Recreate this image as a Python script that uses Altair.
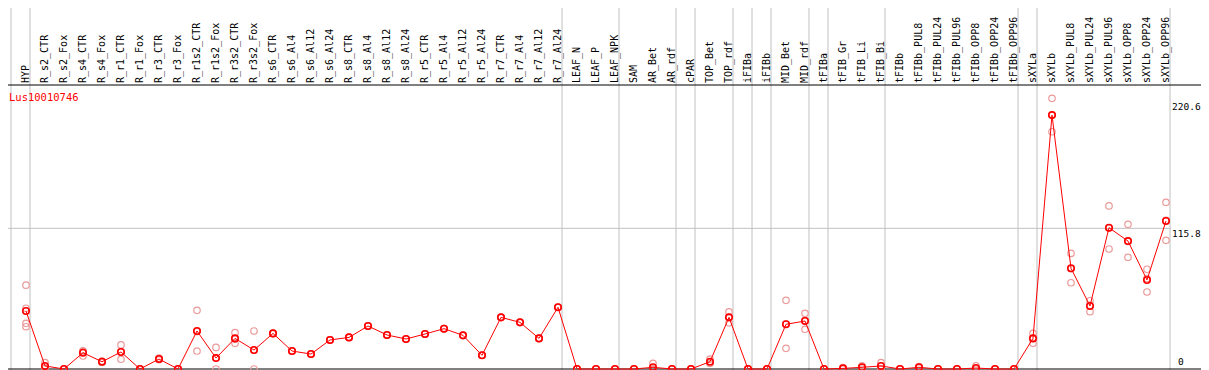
import altair as alt
import pandas as pd

cats = ["HYP", "R_s2_CTR", "R_s2_Fox", "R_s4_CTR", "R_s4_Fox", "R_r1_CTR", "R_r1_Fox",
        "R_r3_CTR", "R_r3_Fox", "R_r1s2_CTR", "R_r1s2_Fox", "R_r3s2_CTR", "R_r3s2_Fox",
        "R_s6_CTR", "R_s6_Al4", "R_s6_Al12", "R_s6_Al24", "R_s8_CTR", "R_s8_Al4",
        "R_s8_Al12", "R_s8_Al24", "R_r5_CTR", "R_r5_Al4", "R_r5_Al12", "R_r5_Al24",
        "R_r7_CTR", "R_r7_Al4", "R_r7_Al12", "R_r7_Al24", "LEAF_N", "LEAF_P", "LEAF_NPK",
        "SAM", "AR_Bet", "AR_rdf", "cPAR", "TOP_Bet", "TOP_rdf", "iFIBa", "iFIBb",
        "MID_Bet", "MID_rdf", "tFIBa", "tFIB_Gr", "tFIB_Li", "tFIB_Bi", "tFIBb",
        "tFIBb_PUL8", "tFIBb_PUL24", "tFIBb_PUL96", "tFIBb_OPP8", "tFIBb_OPP24",
        "tFIBb_OPP96", "sXYLa", "sXYLb", "sXYLb_PUL8", "sXYLb_PUL24", "sXYLb_PUL96",
        "sXYLb_OPP8", "sXYLb_OPP24", "sXYLb_OPP96"]

means = [47.7, 2.5, 0, 13.4, 6, 14, 0, 8.2, 0, 31.3, 9, 25.2, 15.6,
         29.3, 14.8, 12.3, 23.9, 26, 35.4, 28, 24.7, 28.8, 33.2, 27.7, 11.3,
         42.5, 38.4, 25.2, 50.8, 0, 0, 0, 0, 1.4, 0, 0, 6, 42.5, 0, 0,
         36.8, 39.5, 0, 0.5, 1.4, 2.5, 0, 1.4, 0, 0, 0.8, 0, 0,
         25.2, 209, 82.9, 51.9, 116.3, 105.3, 73.3, 121.8]

reps = [[69, 50, 37.6, 34.8], [5.2, 1.5, 0.8], [0, 0, 0], [14.5, 15, 10.7], [6.5, 5.5, 6],
        [19.8, 14.2, 8], [0, 0, 0], [9, 8, 7.6], [0, 0, 0], [48.3, 14.8, 30.8],
        [17.8, 9.2, 0], [29.9, 24.6, 21.1], [31.3, 15.5, 0],
        [29.3, 29.3, 29.3], [14.8, 14.8, 14.8], [12.3, 12.3, 12.3], [23.9, 23.9, 23.9],
        [26, 26, 26], [35.4, 35.4, 35.4], [28, 28, 28], [24.7, 24.7, 24.7],
        [28.8, 28.8, 28.8], [33.2, 33.2, 33.2], [27.7, 27.7, 27.7], [11.3, 11.3, 11.3],
        [42.5, 42.5, 42.5], [38.4, 38.4, 38.4], [25.2, 25.2, 25.2], [50.8, 50.8, 50.8],
        [0, 0, 0], [0, 0, 0], [0, 0, 0], [0, 0, 0], [4.7, 0, 0], [0, 0, 0], [0, 0, 0],
        [8.2, 4.7, 5], [47, 38, 42.5], [0, 0, 0], [0, 0, 0],
        [56.5, 17, 37], [45.8, 32.7, 40], [0, 0, 0], [1.2, 0.3, 0], [2.7, 1.5, 0],
        [5.2, 2.3, 0], [0, 0, 0], [2, 1.5, 0.7], [0, 0, 0], [0, 0, 0], [2.7, 0, 0],
        [0, 0, 0], [0, 0, 0],
        [29.3, 25.2, 21.1], [222.8, 209, 195.3], [95.2, 82.5, 71], [56.2, 52.3, 47.2],
        [134.2, 116, 98.8], [119.1, 105, 91.9], [82.1, 74.5, 63.4], [137.2, 122.3, 105.9]]

group_ends = ["HYP", "R_r7_Al24", "LEAF_NPK", "AR_rdf", "cPAR", "TOP_rdf", "iFIBa",
              "iFIBb", "MID_rdf", "tFIBa", "tFIB_Bi", "tFIBb_OPP96", "sXYLa", "sXYLb_OPP96"]

tick_values = [0, 115.8, 220.6]
gene = "Lus10010746"

FONT = "DejaVu Sans Mono"
W, H = 1193, 362

df_means = pd.DataFrame({"cat": cats, "val": means})
df_reps = pd.DataFrame([{"cat": c, "val": v} for c, rs in zip(cats, reps) for v in rs])
df_sep = pd.DataFrame({"cat": group_ends})
df_first = pd.DataFrame({"cat": [cats[0]]})
df_ticks_top = pd.DataFrame({"v": tick_values[1:], "lab": [str(t) for t in tick_values[1:]]})
df_ticks_bot = pd.DataFrame({"v": tick_values[:1], "lab": [str(t) for t in tick_values[:1]]})

xs = alt.Scale(type="point", domain=cats, range=[18, 18 + 19 * (len(cats) - 1)], padding=0)
ys = alt.Scale(domain=[0, 220.6], range=[361, 93], nice=False, zero=False)
X = alt.X("cat:N", scale=xs, axis=None)
Y = alt.Y("val:Q", scale=ys, axis=None)

base = alt.Chart(df_means)

sep = alt.Chart(df_sep).mark_rule(color="#c0c0c0", strokeWidth=1, xOffset=4).encode(x=X)
sep0 = alt.Chart(df_first).mark_rule(color="#c0c0c0", strokeWidth=1, xOffset=-15).encode(x=X)

grid = alt.Chart(pd.DataFrame({"v": [tick_values[1]]})).mark_rule(color="#c0c0c0", strokeWidth=1).encode(
    y=alt.Y("v:Q", scale=ys, axis=None), x=alt.value(0), x2=alt.value(1163))

bottom = alt.Chart(pd.DataFrame({"v": [0]})).mark_rule(color="black", strokeWidth=1).encode(
    y=alt.Y("v:Q", scale=ys, axis=None), x=alt.value(0), x2=alt.value(W))
header_line = alt.Chart(pd.DataFrame({"v": [0]})).mark_rule(color="black", strokeWidth=1).encode(
    y=alt.value(77), x=alt.value(0), x2=alt.value(W))

labels = base.mark_text(angle=270, align="left", baseline="middle", font=FONT, fontSize=10,
                        color="black").encode(x=X, y=alt.value(75), text="cat:N")

title = alt.Chart(pd.DataFrame({"t": [gene]})).mark_text(
    align="left", baseline="alphabetic", font=FONT, fontSize=10.5, color="red").encode(
    x=alt.value(1), y=alt.value(92.5), text="t:N")

tick_top = alt.Chart(df_ticks_top).mark_text(
    align="left", baseline="top", font=FONT, fontSize=9.5, color="black", dy=1).encode(
    y=alt.Y("v:Q", scale=ys, axis=None), x=alt.value(1164), text="lab:N")
tick_bot = alt.Chart(df_ticks_bot).mark_text(
    align="left", baseline="bottom", font=FONT, fontSize=9.5, color="black", dy=-2).encode(
    y=alt.Y("v:Q", scale=ys, axis=None), x=alt.value(1170), text="lab:N")

rep_pts = alt.Chart(df_reps).mark_point(shape="circle", filled=False, size=42, strokeWidth=1.2,
                                        color="#eb9a9a", opacity=1).encode(x=X, y=Y)
line = base.mark_line(color="red", strokeWidth=1).encode(x=X, y=Y)
mean_pts = base.mark_point(shape="circle", filled=False, size=42, strokeWidth=1.6,
                           color="red", opacity=1).encode(x=X, y=Y)

chart = alt.layer(sep, sep0, grid, bottom, header_line, labels, title,
                  tick_top, tick_bot, rep_pts, line, mean_pts).properties(
    width=W, height=H, autosize=alt.AutoSizeParams(type="none"), padding=0,
    background="white"
).configure_view(stroke=None)

chart.save("out.html", embed_options={"renderer": "svg", "actions": False})
